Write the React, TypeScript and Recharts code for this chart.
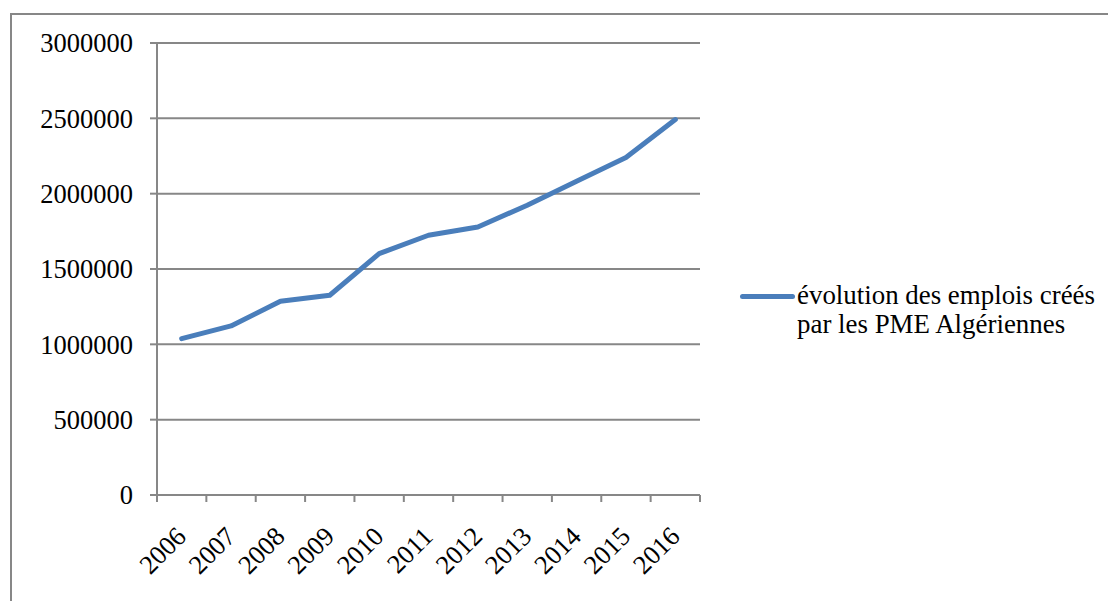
import React from 'react';
import { LineChart, Line, XAxis, YAxis, CartesianGrid, Legend } from 'recharts';

const years = ['2006', '2007', '2008', '2009', '2010', '2011', '2012', '2013', '2014', '2015', '2016'];
const emplois = [1038000, 1122000, 1286000, 1326000, 1602000, 1724000, 1779000, 1923000, 2083000, 2240000, 2492000];
const yTicks = [0, 500000, 1000000, 1500000, 2000000, 2500000, 3000000];
const seriesName = 'évolution des emplois créés par les PME Algériennes';

const data = years.map((y, i) => ({ year: y, value: emplois[i] }));

const FONT = '"Liberation Serif", "Times New Roman", Tinos, serif';
const GRAY = '#878787';
const BLUE = '#4a7ebb';

const XTick = (props: any) => {
  const { x, y, payload, index, width, visibleTicksCount } = props;
  const half = payload && typeof payload.offset === 'number' && payload.offset > 0
    ? payload.offset
    : (width / visibleTicksCount) / 2;
  const isLast = index === visibleTicksCount - 1;
  const tx = x + 6;
  const ty = y + 43;
  return (
    <g>
      <line x1={x - half} x2={x - half} y1={y} y2={y + 7} stroke={GRAY} strokeWidth={2} />
      {isLast && <line x1={x + half} x2={x + half} y1={y} y2={y + 7} stroke={GRAY} strokeWidth={2} />}
      <text
        x={tx}
        y={ty}
        textAnchor="end"
        transform={`rotate(-45, ${tx}, ${ty})`}
        fontSize={26.5}
        fontFamily={FONT}
        fill="#000"
      >
        {payload.value}
      </text>
    </g>
  );
};

const LegendContent = () => (
  <div style={{ position: 'relative', fontFamily: FONT, fontSize: 26.9, lineHeight: '29px', color: '#000', textAlign: 'left' }}>
    <div style={{ position: 'absolute', left: 0, top: 13, width: 55, height: 5, background: BLUE, borderRadius: 2.5 }} />
    <div style={{ marginLeft: 57, width: 315, whiteSpace: 'normal' }}>{seriesName}</div>
  </div>
);

export default function App() {
  return (
    <div style={{ position: 'absolute', left: 0, top: 0, width: 1108, height: 601, background: '#fff', overflow: 'hidden' }}>
      <div style={{ position: 'absolute', left: 10, top: 13, width: 1200, height: 700, border: `2px solid ${GRAY}`, boxSizing: 'border-box' }} />
      <div style={{ position: 'absolute', left: 0, top: 0 }}>
        <LineChart width={1108} height={601} data={data} margin={{ top: 43, right: 408, bottom: 0, left: 0 }}>
          <CartesianGrid horizontal vertical={false} stroke={GRAY} strokeWidth={2} />
          <XAxis
            dataKey="year"
            type="category"
            scale="band"
            height={106}
            axisLine={{ stroke: GRAY, strokeWidth: 2 }}
            tickLine={false}
            tickSize={0}
            tickMargin={0}
            interval={0}
            tick={<XTick />}
          />
          <YAxis
            width={157}
            domain={[0, 3000000]}
            ticks={yTicks}
            interval={0}
            tickFormatter={(v: number) => String(v)}
            axisLine={{ stroke: GRAY, strokeWidth: 2 }}
            tickLine={{ stroke: GRAY, strokeWidth: 2 }}
            tickSize={7}
            tickMargin={17}
            tick={{ fontSize: 26.5, fontFamily: FONT, fill: '#000' }}
          />
          <Legend
            layout="horizontal"
            verticalAlign="middle"
            align="center"
            content={<LegendContent />}
            wrapperStyle={{ position: 'absolute', left: 740, top: 281, width: 368, height: 60 }}
          />
          <Line
            type="linear"
            dataKey="value"
            name={seriesName}
            stroke={BLUE}
            strokeWidth={5}
            dot={false}
            activeDot={false}
            strokeLinejoin="round"
            strokeLinecap="round"
            isAnimationActive={false}
          />
        </LineChart>
      </div>
    </div>
  );
}
